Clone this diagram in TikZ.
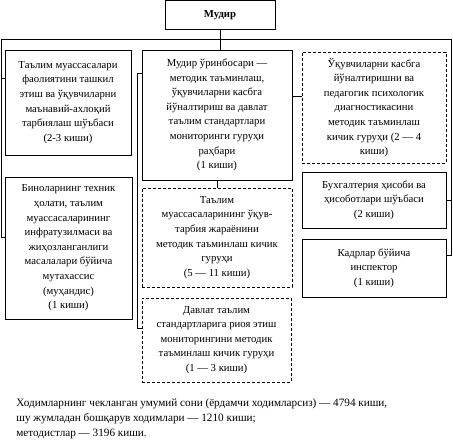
\documentclass[tikz,border=0pt]{standalone}
\usepackage{fontspec}
\setmainfont{Liberation Serif}
\begin{document}
\begin{tikzpicture}[x=1pt,y=-1pt,line width=0.8pt,
  bloc/.style={draw,align=center,inner sep=2pt,font=\fontsize{10.7}{14.6}\selectfont},
  groupe/.style={bloc,dash pattern=on 3pt off 2pt}]
% Tuzilma: mudir va bo'linmalar
\useasboundingbox (0,0) rectangle (453,443);
\node[bloc,minimum width=110pt,minimum height=28.5pt,font=\bfseries\fontsize{10.7}{14.6}\selectfont] (mudir) at (220,14.75) {Мудир};
\node[bloc,minimum width=126pt,minimum height=105pt] (talim) at (68,102.5) {Таълим муассасалари\\ фаолиятини ташкил\\ этиш ва ўқувчиларни\\ маънавий-ахлоқий\\ тарбиялаш шўъбаси\\ (2-3 киши)};
\node[bloc,minimum width=127pt,minimum height=142pt] (bino) at (68.5,248) {Биноларнинг техник\\ ҳолати, таълим\\ муассасаларининг\\ инфратузилмаси ва\\ жиҳозланганлиги\\ масалалари бўйича\\ мутахассис\\ (муҳандис)\\ (1 киши)};
\node[bloc,minimum width=150pt,minimum height=130pt] (orin) at (217,115) {Мудир ўринбосари —\\ методик таъминлаш,\\ ўқувчиларни касбга\\ йўналтириш ва давлат\\ таълим стандартлари\\ мониторинги гуруҳи\\ раҳбари\\ (1 киши)};
\node[groupe,minimum width=150pt,minimum height=99pt] (oquv) at (217,237.5) {Таълим\\ муассасаларининг ўқув-\\ тарбия жараёнини\\ методик таъминлаш кичик\\ гуруҳи\\ (5 — 11 киши)};
\node[groupe,minimum width=149pt,minimum height=84pt] (davlat) at (216.5,340) {Давлат таълим\\ стандартларига риоя этиш\\ мониторингини методик\\ таъминлаш кичик гуруҳи\\ (1 — 3 киши)};
\node[groupe,minimum width=144pt,minimum height=111pt] (kasb) at (374,107.5) {Ўқувчиларни касбга\\ йўналтиришни ва\\ педагогик психологик\\ диагностикасини\\ методик таъминлаш\\ кичик гуруҳи (2 — 4\\ киши)};
\node[bloc,minimum width=144pt,minimum height=56pt] (buxg) at (374,200) {Бухгалтерия ҳисоби ва\\ ҳисоботлари шўъбаси\\ (2 киши)};
\node[bloc,minimum width=144pt,minimum height=58pt] (kadr) at (374,268) {Кадрлар бўйича\\ инспектор\\ (1 киши)};
\node[anchor=north west,align=left,inner sep=0pt,font=\fontsize{11.2}{15}\selectfont] (jami) at (16,398) {Ходимларнинг чекланган умумий сони (ёрдамчи ходимларсиз) — 4794 киши,\\ шу жумладан бошқарув ходимлари — 1210 киши;\\ методистлар — 3196 киши.};
\coordinate (gauche) at (1,39);
\coordinate (droite) at (451,39);
\draw (gauche) -- (droite);
\draw (mudir.south) -- (mudir.south |- orin.north);
\draw (gauche) |- (bino.west |- 0,237);
\draw (gauche |- 0,78) -- (talim.west |- 0,78);
\draw (droite) |- (kadr.east |- 0,255);
\draw (buxg.east) -- (buxg.east -| droite);
\draw (orin.south) -- (oquv.north);
\draw (orin.west |- 0,73) -| (137,328) -- (davlat.west |- 0,328);
\draw (orin.east |- 0,96) -- (kasb.west |- 0,96);
\end{tikzpicture}
\end{document}
